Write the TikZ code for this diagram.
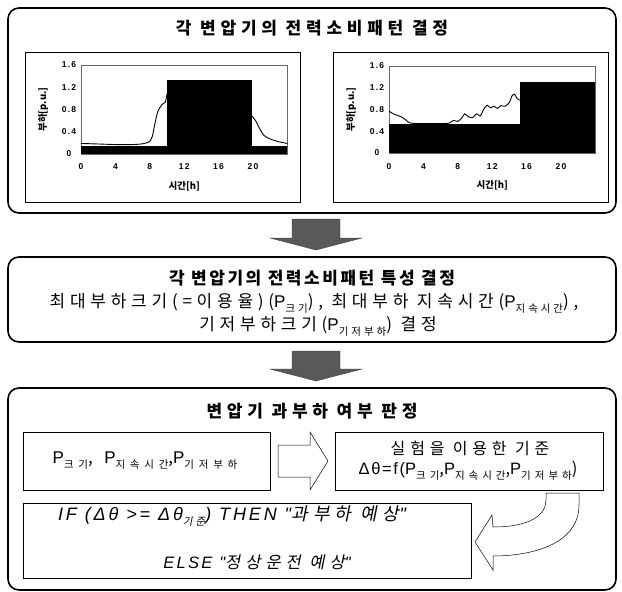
\documentclass[tikz,border=0pt]{standalone}
\usepackage{fontspec}
\setmainfont{Noto Sans CJK KR}
\newfontfamily\krit{Noto Sans CJK KR}[FakeSlant=0.2]
\newfontfamily\latP{Liberation Sans}
\newfontfamily\latI{Liberation Sans}
\newfontfamily\arial{Liberation Sans}
\usetikzlibrary{calc}
\newcommand\sbk[1]{\raisebox{-0.55ex}{\fontsize{10.5}{10.5}\selectfont #1}}
\newcommand\PP{{\latP P}}
\tikzset{
  bigbox/.style={draw,line width=1.6pt,rounded corners=11pt},
  subbox/.style={draw,line width=1pt},
  frame/.style={draw,line width=0.9pt},
  ttl/.style={font=\fontsize{17}{17}\selectfont\bfseries\addfontfeature{LetterSpace=28}},
  body/.style={font=\fontsize{17}{17}\selectfont\addfontfeature{LetterSpace=28}},
  tick/.style={font=\arial\bfseries\fontsize{8.5}{8.5}\selectfont\addfontfeature{LetterSpace=15},inner sep=0pt},
  axl/.style={font=\bfseries\fontsize{9.5}{9.5}\selectfont,inner sep=0pt},
  grayarrow/.style={fill=black!65,draw=black!75,line width=0.4pt},
  hollow/.style={draw,line width=0.5pt,line join=miter},
  curve/.style={line width=0.9pt},
}
\newcommand\ITL[1]{{\latI\itshape\addfontfeature{LetterSpace=\lsv}#1}}
\newcommand\KIT[1]{{\krit\addfontfeature{LetterSpace=\ksv}#1}}
\def\lsv{30}
\def\ksv{30}
\begin{document}
\begin{tikzpicture}[x=1pt,y=-1pt]
\useasboundingbox (0,0) rectangle (622,592);
% box 1
\draw[bigbox] (8,8) rectangle (616,213);
\node[ttl] (t1) at (312,28) {각 변압기의 전력소비패턴 결정};
\draw[frame] (25,52) rectangle (300,202);
\draw[frame] (333,52) rectangle (608,202);
% chart 1
\begin{scope}[shift={(81,154)},x=8.6pt,y=55.6pt]
  \draw[line width=0.3pt,black!60] (0,0) rectangle (24,1.6);
  \fill (0,0) rectangle (24,0.15);
  \fill (10,0) rectangle (19.9,1.33);
  \draw[curve] plot[smooth,tension=0.4] coordinates {(0,0.19) (2,0.18) (4,0.17) (6,0.17) (7,0.18) (7.6,0.2) (8,0.23) (8.3,0.32) (8.6,0.55) (8.9,0.75) (9.2,0.84) (9.5,0.9) (9.8,0.93) (10,1.08)};
  \draw[curve] plot[smooth,tension=0.4] coordinates {(19.9,0.68) (20.3,0.6) (20.8,0.45) (21.3,0.33) (22,0.27) (23,0.22) (24,0.19)};
  \foreach \t in {0,4,8,12,16,20} \node[tick] (xa\t) at (\t,-0.23) {\t};
  \foreach \v in {0.4,0.8,1.2,1.6} \node[tick] (ya\v) at (-1.4,\v) {\v};
  \node[tick] (ya0) at (-1.4,0) {0};
  \node[axl] (xla) at (12,-0.58) {시간[h]};
  \node[axl,rotate=90] (yla) at (-4.4,0.8) {부하[p.u.]};
\end{scope}
% chart 2
\begin{scope}[shift={(389,153)},x=8.6pt,y=54.4pt]
  \draw[line width=0.3pt,black!60] (0,0) rectangle (24,1.6);
  \fill (0,0) rectangle (15.2,0.53);
  \fill (15.2,0) rectangle (24,1.31);
  \draw[curve] plot[smooth,tension=0.4] coordinates {(0,0.77) (0.5,0.72) (1,0.69) (1.5,0.66) (2,0.6) (2.5,0.55) (4,0.54) (6,0.54) (7,0.55) (7.5,0.6) (8,0.58) (8.5,0.65) (8.8,0.72) (9.2,0.67) (9.7,0.65) (10.2,0.72) (10.6,0.68) (11,0.8) (11.4,0.88) (11.8,0.83) (12.2,0.86) (12.6,0.82) (13,0.87) (13.5,0.86) (14,0.93) (14.3,1.05) (14.6,1.08) (14.9,1.0) (15.2,0.97)};
  \foreach \t in {0,4,8,12,16,20} \node[tick] (xb\t) at (\t,-0.25) {\t};
  \foreach \v in {0.4,0.8,1.2,1.6} \node[tick] (yb\v) at (-1.4,\v) {\v};
  \node[tick] (yb0) at (-1.4,0) {0};
  \node[axl] (xlb) at (12,-0.6) {시간[h]};
  \node[axl,rotate=90] (ylb) at (-4.4,0.8) {부하[p.u.]};
\end{scope}
% arrow 1
\draw[grayarrow] (292,219) -- (340,219) -- (340,238) -- (362,238) -- (316,250) -- (270,238) -- (292,238) -- cycle;
% box 2
\draw[bigbox] (8,257) rectangle (616,342);
\node[ttl,font=\fontsize{17}{17}\selectfont\bfseries\addfontfeature{LetterSpace=15}] (t2) at (312,278) {각 변압기의 전력소비패턴 특성 결정};
\node[body] (l2) at (314,303) {최대부하크기(=이용율)(\PP\sbk{크기}), 최대부하 지속시간(\PP\sbk{지속시간}),};
\node[body] (l3) at (318,326) {기저부하크기(\PP\sbk{기저부하}) 결정};
% arrow 2
\draw[grayarrow] (292,351) -- (340,351) -- (340,369) -- (362,369) -- (316,381) -- (270,369) -- (292,369) -- cycle;
% box 3
\draw[bigbox] (8,388) rectangle (616,590);
\node[ttl] (t3) at (312,411) {변압기 과부하 여부 판정};
\draw[subbox] (23,432) rectangle (270,490);
\node[body,font=\fontsize{17}{17}\selectfont\addfontfeature{LetterSpace=45}] (pa) at (145,461) {\PP\sbk{크기}, \PP\sbk{지속시간},\PP\sbk{기저부하}};
\draw[hollow] (278,445) -- (310,445) -- (310,432) -- (328,461) -- (310,490) -- (310,477) -- (278,477) -- cycle;
\draw[subbox] (335,432) rectangle (603,490);
\node[body,font=\fontsize{16}{16}\selectfont\addfontfeature{LetterSpace=30}] (pb1) at (470,448) {실험을 이용한 기준};
\node[body,font=\fontsize{16.5}{16.5}\selectfont\addfontfeature{LetterSpace=38}] (pb2) at (468,471) {{\latP\addfontfeature{LetterSpace=10}Δθ=f(}\PP\sbk{크기},\PP\sbk{지속시간},\PP\sbk{기저부하})};
\draw[subbox] (23,503) rectangle (471,578);
\node[font=\fontsize{18}{18}\selectfont] (pc1) at (232,516) {\def\lsv{16}\def\ksv{30}\ITL{IF (Δθ >= Δθ}\sbk{\KIT{기준}}\ITL{) THEN "}\KIT{과부하 예상}\ITL{"}};
\node[font=\fontsize{16.5}{16.5}\selectfont] (pc2) at (257,562) {\def\lsv{14}\def\ksv{30}\ITL{ELSE "}\KIT{정상운전 예상}\ITL{"}};
\draw[hollow] (546,493) -- (579,493) -- (579,505) .. controls (579,545) and (530,556) .. (493,556) -- (493,570) -- (475,542) -- (492,515) -- (493,527) .. controls (530,527) and (546,515) .. (546,500) -- cycle;
\end{tikzpicture}
\end{document}
